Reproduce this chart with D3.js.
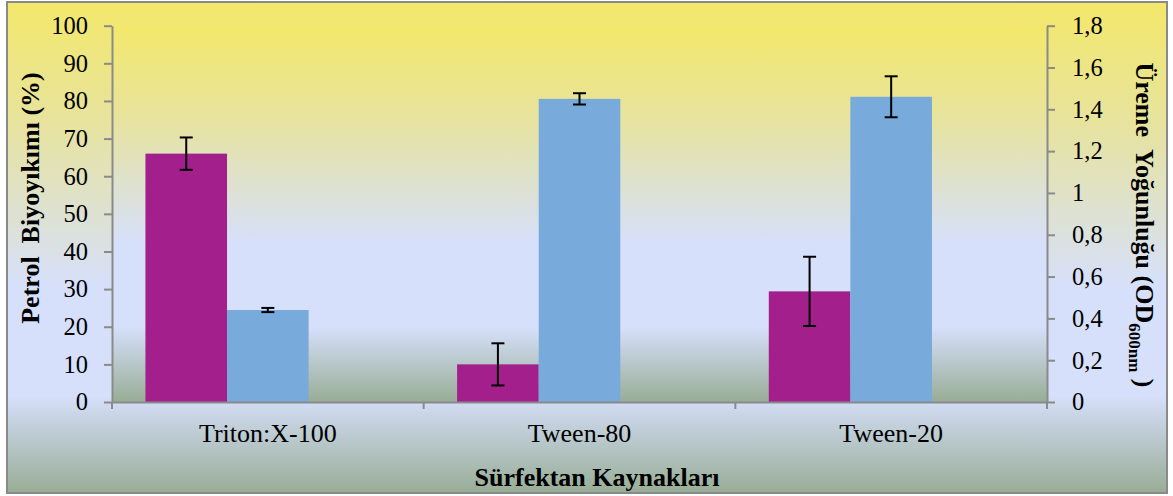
<!DOCTYPE html>
<html><head><meta charset="utf-8">
<script src="https://cdn.jsdelivr.net/npm/d3@7"></script>
<style>html,body{margin:0;padding:0;background:#fff;}svg{display:block;}
svg text{font-family:"Liberation Serif","Times New Roman","DejaVu Serif",serif !important;}</style>
</head><body>
<svg id="c" width="1173" height="496"></svg>
<script>
const categories = ["Triton:X-100", "Tween-80", "Tween-20"];
const biodegradation = [66, 10, 29.4];          // Petrol Biyoyıkımı (%)
const biodegradationErr = [4.3, 5.6, 9.2];
const growth = [0.44, 1.45, 1.46];              // Üreme Yoğunluğu (OD600nm)
const growthErr = [0.01, 0.027, 0.098];
const leftTicks = [0, 10, 20, 30, 40, 50, 60, 70, 80, 90, 100];
const rightTicks = [0, 0.2, 0.4, 0.6, 0.8, 1, 1.2, 1.4, 1.6, 1.8];

const svg = d3.select("#c");
const font = "Liberation Serif";
const L = 112, R = 1047, T = 25.7, B = 402;

const defs = svg.append("defs");
function grad(id){
  const g = defs.append("linearGradient").attr("id", id).attr("x1",0).attr("y1",0).attr("x2",0).attr("y2",1);
  [[0,"#f3e86a"],[0.25,"#e7e39f"],[0.58,"#d6e0fb"],[0.8,"#d6e0fb"],[1,"#98ad96"]]
    .forEach(([o,c]) => g.append("stop").attr("offset",o).attr("stop-color",c));
}
grad("gOuter"); grad("gPlot");

svg.append("rect").attr("x",7).attr("y",2).attr("width",1160).attr("height",491)
  .attr("fill","url(#gOuter)").attr("stroke","#8a8a8a").attr("stroke-width",2);
svg.append("rect").attr("x",L).attr("y",T).attr("width",R-L).attr("height",B-T)
  .attr("fill","url(#gPlot)");

const x = d3.scaleBand().domain(categories).range([L, R]).padding(0);
const sub = d3.scaleBand().domain(["pct","od","empty"]).range([0, x.bandwidth()])
  .paddingInner(0).paddingOuter(0.41);
const yL = d3.scaleLinear().domain([0, 100]).range([B, T]);
const yR = d3.scaleLinear().domain([0, 1.8]).range([B, T]);

// bars
const g = svg.append("g");
g.selectAll("rect.p").data(categories).join("rect")
  .attr("x", (d) => x(d) + sub("pct")).attr("width", sub.bandwidth())
  .attr("y", (d,i) => yL(biodegradation[i])).attr("height", (d,i) => B - yL(biodegradation[i]))
  .attr("fill", "#a21f8c");
g.selectAll("rect.o").data(categories).join("rect")
  .attr("x", (d) => x(d) + sub("od")).attr("width", sub.bandwidth())
  .attr("y", (d,i) => yR(growth[i])).attr("height", (d,i) => B - yR(growth[i]))
  .attr("fill", "#78abdb");

// error bars
function errBars(vals, errs, scale, key){
  categories.forEach((c,i) => {
    const cx = x(c) + sub(key) + sub.bandwidth()/2;
    const y1 = scale(vals[i] + errs[i]), y2 = scale(vals[i] - errs[i]);
    const e = svg.append("g").attr("stroke","#000").attr("stroke-width",2);
    e.append("line").attr("x1",cx).attr("x2",cx).attr("y1",y1).attr("y2",y2);
    e.append("line").attr("x1",cx-6.5).attr("x2",cx+6.5).attr("y1",y1).attr("y2",y1);
    e.append("line").attr("x1",cx-6.5).attr("x2",cx+6.5).attr("y1",y2).attr("y2",y2);
  });
}
errBars(biodegradation, biodegradationErr, yL, "pct");
errBars(growth, growthErr, yR, "od");

// axes
const axisColor = "#8a8a8a";
function styleAxis(sel){
  sel.attr("font-family", font);
  sel.select(".domain").attr("stroke", axisColor).attr("stroke-width", 2);
  sel.selectAll(".tick line").attr("stroke", axisColor).attr("stroke-width", 2);
  sel.selectAll(".tick text").attr("fill", "#000");
}
const axL = svg.append("g").attr("transform", `translate(${L},0)`)
  .call(d3.axisLeft(yL).tickValues(leftTicks).tickSize(8).tickPadding(16).tickSizeOuter(0));
styleAxis(axL);
axL.attr("font-size", 24.5);

const fmtR = (v) => (Number.isInteger(v) ? String(v) : v.toFixed(1).replace(".", ","));
const axR = svg.append("g").attr("transform", `translate(${R},0)`)
  .call(d3.axisRight(yR).tickValues(rightTicks).tickFormat(fmtR).tickSize(8).tickPadding(17).tickSizeOuter(0));
styleAxis(axR);
axR.attr("font-size", 24.5);

const axX = svg.append("g").attr("transform", `translate(0,${B})`)
  .call(d3.axisBottom(x).tickValues([]).tickSizeOuter(0));
styleAxis(axX);
axX.selectAll("line.bt").data([...categories.map(c => x(c)), R]).join("line")
  .attr("x1", d => d).attr("x2", d => d).attr("y1", 0).attr("y2", 7)
  .attr("stroke", axisColor).attr("stroke-width", 2);
axX.selectAll("text.cl").data(categories).join("text")
  .attr("x", d => x(d) + x.bandwidth()/2).attr("y", 39.7)
  .attr("text-anchor","middle").attr("font-size", 26)
  .attr("fill","#000").text(d => d);

// titles
svg.append("text").attr("transform","translate(39,198) rotate(-90)")
  .attr("text-anchor","middle").attr("font-family",font).attr("font-size",26)
  .attr("font-weight","bold").attr("xml:space","preserve")
  .text("Petrol  Biyoyıkımı (%)");

const rt = svg.append("text").attr("transform","translate(1136,225) rotate(90)")
  .attr("text-anchor","middle").attr("font-family",font).attr("font-size",26)
  .attr("font-weight","bold").attr("xml:space","preserve");
rt.append("tspan").text("Üreme  Yoğunluğu (OD");
rt.append("tspan").attr("dy", 7).attr("font-size",17).text("600nm");
rt.append("tspan").attr("dy", -7).text(" )");

svg.append("text").attr("x", 597).attr("y", 486).attr("text-anchor","middle")
  .attr("font-family",font).attr("font-size",26).attr("font-weight","bold")
  .text("Sürfektan Kaynakları");
</script>
</body></html>
